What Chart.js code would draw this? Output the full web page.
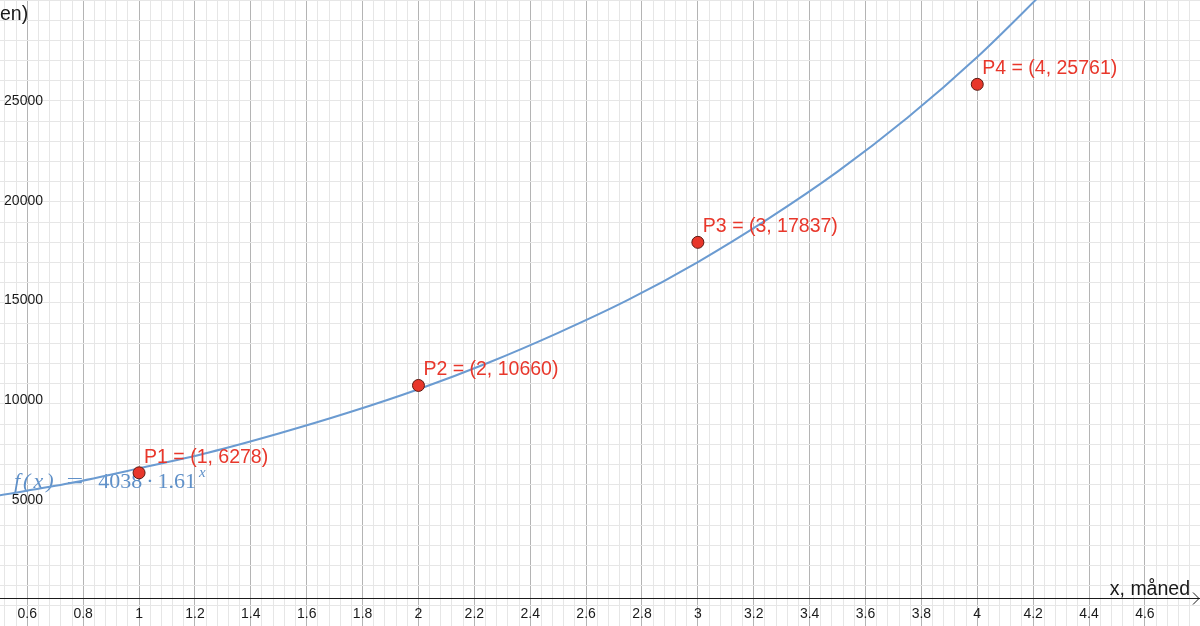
<!DOCTYPE html>
<html lang="no">
<head>
<meta charset="utf-8">
<title>Eksponentiell modell</title>
<script src="https://cdn.jsdelivr.net/npm/chart.js@4.4.1/dist/chart.umd.min.js"></script>
<style>
    html, body { margin: 0; padding: 0; background: #ffffff; overflow: hidden; }
    #plot { display: block; }
</style>
</head>
<body>
<canvas id="plot" width="1200" height="626"></canvas>
<script>
// Data
const pointNames = ['P1', 'P2', 'P3', 'P4'];
const pointX = [1, 2, 3, 4];
const pointY = [6278, 10660, 17837, 25761];

// f(x) = 4038 * 1.61^x, sampled from the drawn curve
const curveX = [0.5, 0.75, 1, 1.25, 1.5, 1.75, 2, 2.25, 2.5, 2.75, 3, 3.25, 3.5, 3.75, 4, 4.25];
const curveY = [5150, 5750, 6500, 7300, 8250, 9300, 10470, 11800, 13300, 14950, 16850, 19000, 21380, 24080, 27130, 30560];

const xTickLabels = ['0.6', '0.8', '1', '1.2', '1.4', '1.6', '1.8', '2', '2.2', '2.4', '2.6', '2.8',
    '3', '3.2', '3.4', '3.6', '3.8', '4', '4.2', '4.4', '4.6'];
const yTickLabels = ['5000', '10000', '15000', '20000', '25000'];

const xAxisTitle = 'x, måned';
const yAxisTitle = 'en)';

const SANS = '"Liberation Sans", Arial, Helvetica, sans-serif';
const SERIF = '"Liberation Serif", "Times New Roman", serif';
const RED = '#e8372b';
const BLUE = '#6b9bd1';

class GraphPage {
    constructor() {
        this.chart = null;
        this.init();
    }

    init() {
        const ctx = document.getElementById('plot').getContext('2d');
        this.chart = new Chart(ctx, {
            type: 'scatter',
            data: {
                datasets: [
                    {
                        label: 'f',
                        data: curveX.map((x, i) => ({ x: x, y: curveY[i] })),
                        showLine: true,
                        borderColor: BLUE,
                        borderWidth: 2,
                        pointRadius: 0,
                        pointHoverRadius: 0,
                        cubicInterpolationMode: 'monotone',
                        order: 2
                    },
                    {
                        label: 'punkter',
                        data: pointX.map((x, i) => ({ x: x, y: pointY[i] })),
                        backgroundColor: RED,
                        borderColor: '#5c1a12',
                        borderWidth: 1,
                        pointRadius: 6,
                        pointHoverRadius: 6,
                        order: 1
                    }
                ]
            },
            options: {
                responsive: false,
                animation: false,
                events: [],
                layout: { padding: 0, autoPadding: false },
                plugins: {
                    legend: { display: false },
                    tooltip: { enabled: false }
                },
                scales: {
                    x: {
                        type: 'linear',
                        min: 0.5023,
                        max: 4.7972,
                        border: { display: false },
                        ticks: { display: false, stepSize: 0.04, includeBounds: false },
                        grid: {
                            drawTicks: false,
                            color: (c) => this.isMajor(c.tick.value, 0.2) ? '#b4b4b4' : '#e6e6e6'
                        }
                    },
                    y: {
                        type: 'linear',
                        min: -1404,
                        max: 29990,
                        border: { display: false },
                        ticks: { display: false, stepSize: 1000, includeBounds: false },
                        grid: {
                            drawTicks: false,
                            color: (c) => this.isMajor(c.tick.value, 5000) ? '#b4b4b4' : '#e6e6e6'
                        }
                    }
                }
            },
            plugins: [this.axesPlugin(), this.labelsPlugin()]
        });
    }

    isMajor(value, step) {
        const r = value / step;
        return Math.abs(r - Math.round(r)) < 1e-6;
    }

    // Axis line, tick labels, axis titles and the function label
    axesPlugin() {
        return {
            id: 'axes',
            beforeDatasetsDraw: (chart) => {
                const ctx = chart.ctx;
                const xs = chart.scales.x;
                const ys = chart.scales.y;
                const y0 = Math.round(ys.getPixelForValue(0)) + 0.5;

                ctx.save();
                ctx.strokeStyle = '#1a1a1a';
                ctx.lineWidth = 1;
                ctx.beginPath();
                ctx.moveTo(0, y0);
                ctx.lineTo(chart.width, y0);
                ctx.stroke();

                // arrow head
                ctx.beginPath();
                ctx.moveTo(chart.width - 7, y0 - 6);
                ctx.lineTo(chart.width - 1, y0);
                ctx.lineTo(chart.width - 7, y0 + 6);
                ctx.stroke();

                ctx.fillStyle = '#1a1a1a';
                ctx.font = '14px ' + SANS;
                ctx.textAlign = 'center';
                ctx.textBaseline = 'alphabetic';
                xTickLabels.forEach(label => {
                    const px = xs.getPixelForValue(parseFloat(label));
                    ctx.fillText(label, px, y0 + 19);
                });

                ctx.textAlign = 'right';
                yTickLabels.forEach(label => {
                    const py = ys.getPixelForValue(parseFloat(label));
                    ctx.fillText(label, 43, py + 5.5);
                });

                ctx.font = '19.5px ' + SANS;
                ctx.textAlign = 'right';
                ctx.fillText(xAxisTitle, 1190, y0 - 4);
                ctx.textAlign = 'left';
                ctx.fillText(yAxisTitle, 0, 20);

                this.drawFormula(ctx);
                ctx.restore();
            }
        };
    }

    drawFormula(ctx) {
        const base = 488;
        let x = 14;
        ctx.fillStyle = '#5f90c8';
        ctx.textAlign = 'left';
        ctx.font = 'italic 22px ' + SERIF;
        ['f', '(', 'x', ')'].forEach(ch => {
            ctx.fillText(ch, x, base);
            x += ctx.measureText(ch).width + 3;
        });
        x += 10;
        ctx.font = '22px ' + SERIF;
        ctx.save();
        ctx.translate(x, base);
        ctx.scale(1.35, 1);
        ctx.fillText('=', 0, 0);
        ctx.restore();
        x += ctx.measureText('=').width * 1.35 + 15;
        ctx.fillText('4038', x, base);
        x += ctx.measureText('4038').width + 4;
        ctx.fillText('·', x, base);
        x += ctx.measureText('·').width + 4;
        ctx.fillText('1.61', x, base);
        x += ctx.measureText('1.61').width + 3;
        ctx.font = 'italic 15px ' + SERIF;
        ctx.fillText('x', x, base - 11);
    }

    // Red point labels
    labelsPlugin() {
        return {
            id: 'pointLabels',
            afterDatasetsDraw: (chart) => {
                const ctx = chart.ctx;
                const xs = chart.scales.x;
                const ys = chart.scales.y;
                ctx.save();
                ctx.fillStyle = RED;
                ctx.font = '19.5px ' + SANS;
                ctx.textAlign = 'left';
                ctx.textBaseline = 'alphabetic';
                pointNames.forEach((name, i) => {
                    const px = xs.getPixelForValue(pointX[i]);
                    const py = ys.getPixelForValue(pointY[i]);
                    ctx.fillText(name + ' = (' + pointX[i] + ', ' + pointY[i] + ')', px + 5, py - 10);
                });
                ctx.restore();
            }
        };
    }
}

document.addEventListener('DOMContentLoaded', () => {
    window.graphPage = new GraphPage();
});
</script>
</body>
</html>
